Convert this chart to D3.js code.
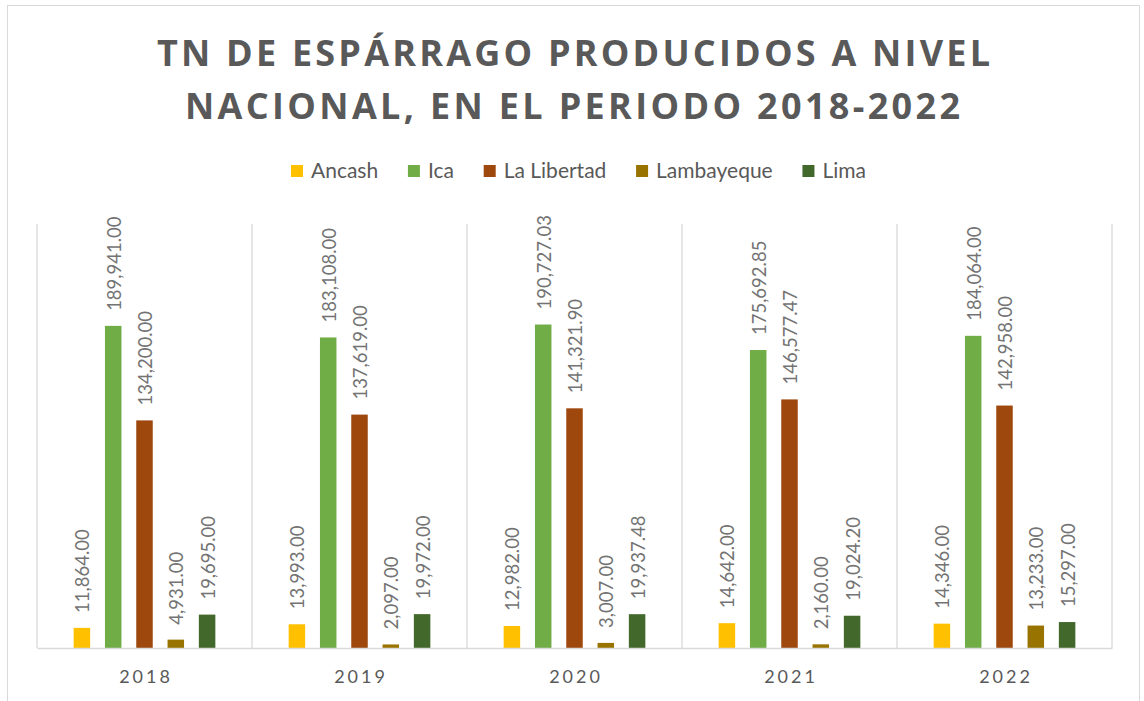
<!DOCTYPE html>
<html><head><meta charset="utf-8">
<script src="https://cdn.jsdelivr.net/npm/d3@7"></script>
<style>
html,body{margin:0;padding:0;background:#fff;}
svg{display:block;}
</style></head>
<body>
<svg id="chart" width="1144" height="701"></svg>
<script>
const years = ["2018","2019","2020","2021","2022"];
const seriesNames = ["Ancash","Ica","La Libertad","Lambayeque","Lima"];
const ancash = [11864, 13993, 12982, 14642, 14346];
const ica = [189941, 183108, 190727.03, 175692.85, 184064];
const laLibertad = [134200, 137619, 141321.90, 146577.47, 142958];
const lambayeque = [4931, 2097, 3007, 2160, 13233];
const lima = [19695, 19972, 19937.48, 19024.20, 15297];
const colors = ["#FFC000","#70AD47","#9E480E","#997300","#43682B"];
const titleLines = ["TN DE ESPÁRRAGO PRODUCIDOS A NIVEL","NACIONAL, EN EL PERIODO 2018-2022"];

(function(){
const values = [ancash, ica, laLibertad, lambayeque, lima];
const svg = d3.select("#chart");

// outer frame
svg.append("rect").attr("x",7.5).attr("y",5.5).attr("width",1132).attr("height",720)
  .attr("fill","#fff").attr("stroke","#d9d9d9").attr("stroke-width",1);

const pL=37, pR=1112, pT=224, pB=648;
const x0 = d3.scaleBand().domain(years).range([pL,pR]).padding(0);
const x1 = d3.scaleBand().domain(seriesNames).range([0,x0.bandwidth()]).paddingInner(0.473).paddingOuter(1.171);
const y = d3.scaleLinear().domain([0,250000]).range([pB,pT]);

// vertical gridlines at category boundaries
const bounds = years.map(d=>x0(d)).concat([pR]);
svg.append("g").selectAll("line").data(bounds).join("line")
  .attr("x1",d=>d).attr("x2",d=>d).attr("y1",pT).attr("y2",pB)
  .attr("stroke","#d9d9d9").attr("stroke-width",1.3);

// bars
const fmt = d3.format(",.2f");
const data = [];
years.forEach((yr,i)=>seriesNames.forEach((s,j)=>data.push({yr,s,j,v:values[j][i]})));
const g = svg.append("g");
g.selectAll("rect").data(data).join("rect")
  .attr("x",d=>x0(d.yr)+x1(d.s)).attr("width",x1.bandwidth())
  .attr("y",d=>y(d.v)).attr("height",d=>y(0)-y(d.v))
  .attr("fill",d=>colors[d.j]);

// baseline axis
const xAxis = d3.axisBottom(x0).tickSize(0).tickPadding(0);
const ax = svg.append("g").attr("transform",`translate(0,${pB})`).call(xAxis);
ax.select(".domain").attr("stroke","#d9d9d9").attr("stroke-width",1.3);
ax.selectAll(".tick text").attr("y",35).attr("dy",0)
  .attr("fill","#595959").style("font-family","Lato").style("font-size","18px")
  .style("letter-spacing","3px").attr("dx",1.5);

// data labels
g.selectAll("text").data(data).join("text")
  .attr("transform",d=>`translate(${x0(d.yr)+x1(d.s)+x1.bandwidth()/2+1},${y(d.v)-15}) rotate(-90)`)
  .attr("dy","0.35em").attr("text-anchor","start")
  .attr("fill","#737373").style("font-family","Lato").style("font-size","18.5px")
  .text(d=>fmt(d.v));

// title
const titleY=[66,119], titleLeft=[157,185], titleRight=[990,960];
titleLines.forEach((t,i)=>{
  const tx = svg.append("text").attr("x",0).attr("y",titleY[i])
    .attr("fill","#595959").style("font-family","Open Sans").style("font-weight","700")
    .style("font-size","36px").text(t);
  const n = t.length;
  const w0 = tx.node().getComputedTextLength();
  const target = titleRight[i]-titleLeft[i];
  const ls = (target - w0)/(n-1);
  tx.style("letter-spacing",ls+"px").attr("x",titleLeft[i]);
});

// legend
const lg = svg.append("g");
const legL = 291, legR = 866;
const its = [], widths = [];
seriesNames.forEach((s,j)=>{
  const it = lg.append("g");
  it.append("rect").attr("x",0).attr("y",-6).attr("width",12).attr("height",12).attr("fill",colors[j]);
  const tt = it.append("text").attr("x",20).attr("y",0).attr("dy","0.35em")
    .attr("fill","#595959").style("font-family","Lato").style("font-size","21px").text(s);
  its.push(it); widths.push(20 + tt.node().getComputedTextLength());
});
const gap = ((legR-legL) - d3.sum(widths))/(seriesNames.length-1);
let cx = legL;
its.forEach((it,j)=>{ it.attr("transform",`translate(${cx},171)`); cx += widths[j]+gap; });
})();
</script>
</body></html>
